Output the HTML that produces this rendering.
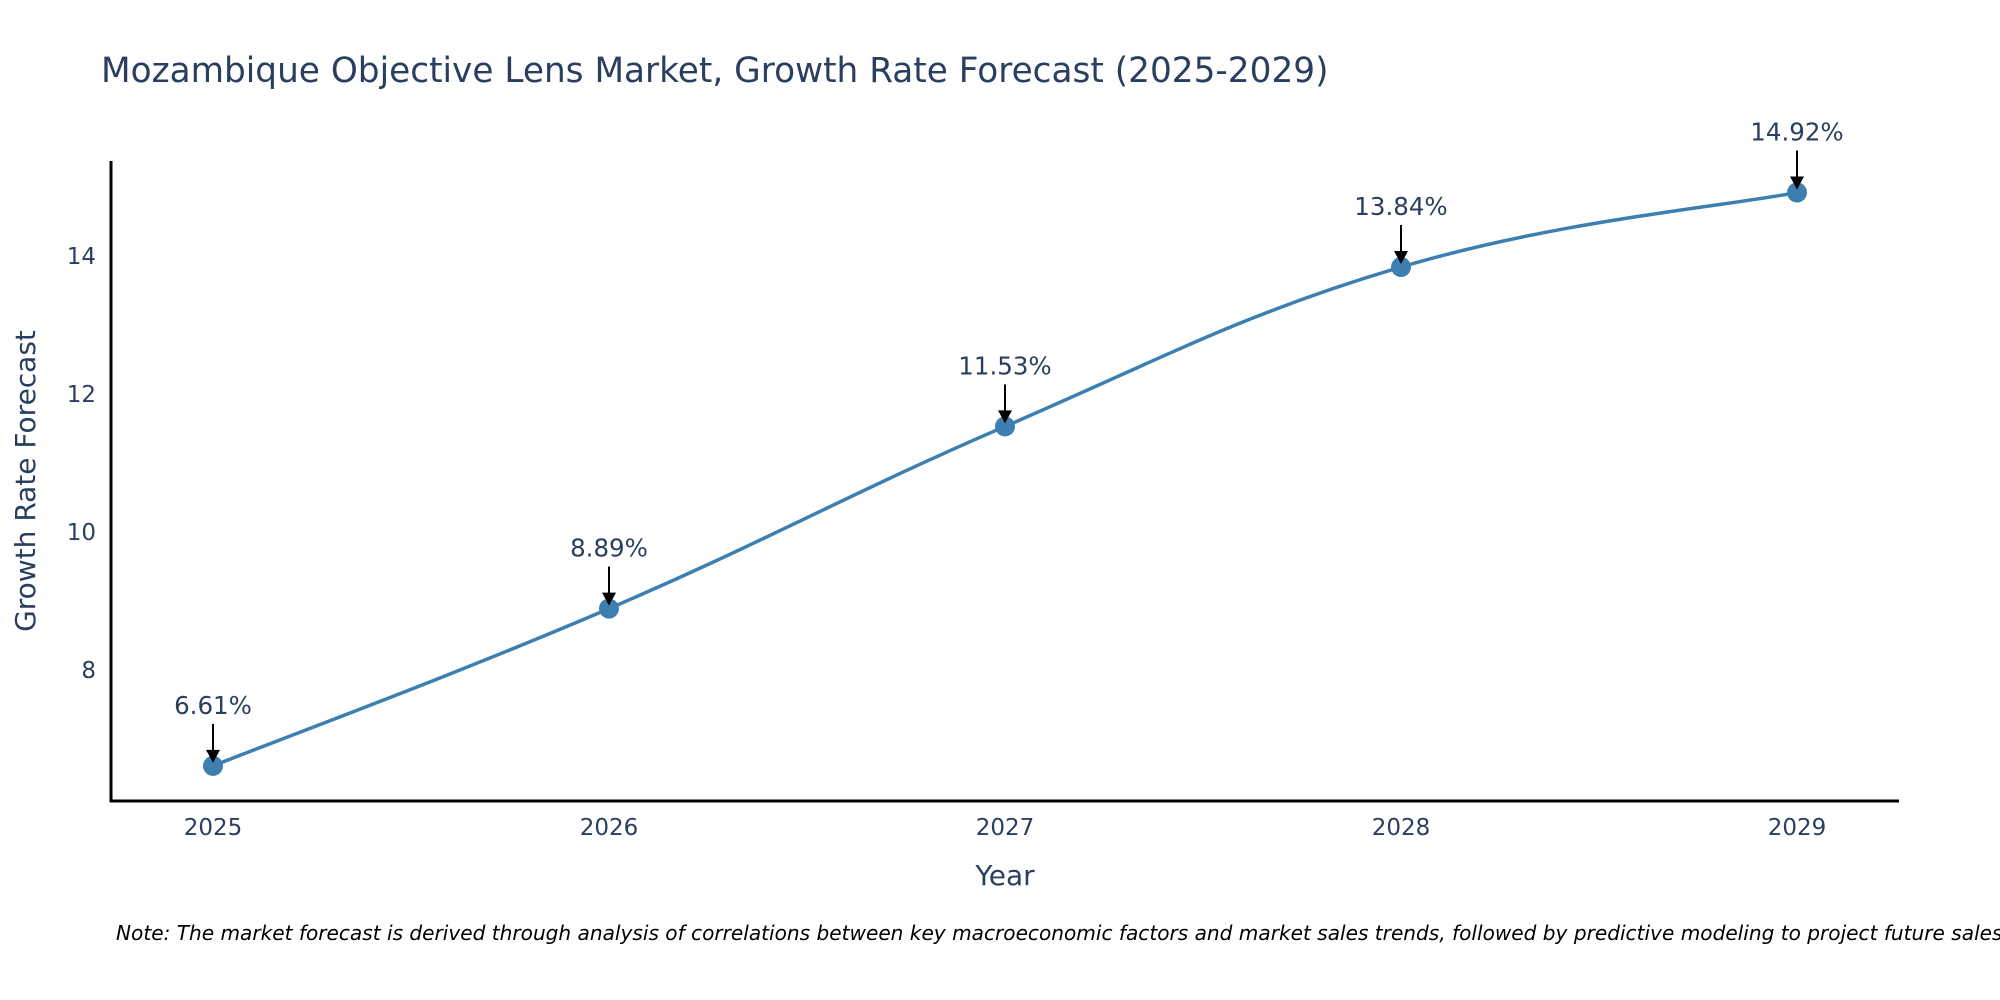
<!DOCTYPE html>
<html><head><meta charset="utf-8"><style>
html,body{margin:0;padding:0;background:#fff;}
svg{display:block;font-family:"DejaVu Sans","Liberation Sans",sans-serif;}
</style></head><body>
<svg id="chart" width="2000" height="1000" viewBox="0 0 2000 1000">
<text x="101" y="82" font-size="34.3" fill="#2a3f5f">Mozambique Objective Lens Market, Growth Rate Forecast (2025-2029)</text>
<g id="yticks"></g>
<g id="xticks"></g>
<line x1="111" y1="161" x2="111" y2="802" stroke="#000" stroke-width="3"/>
<line x1="110" y1="801" x2="1899" y2="801" stroke="#000" stroke-width="3"/>
<text x="1005" y="885" font-size="28" fill="#2a3f5f" text-anchor="middle">Year</text>
<text x="0" y="0" font-size="28" fill="#2a3f5f" text-anchor="middle" transform="translate(35,481) rotate(-90)">Growth Rate Forecast</text>
<g id="series"></g>
<g id="annos"></g>
<text x="116" y="940" font-size="20.1" font-style="italic" fill="#000">Note: The market forecast is derived through analysis of correlations between key macroeconomic factors and market sales trends, followed by predictive modeling to project future sales</text>
</svg>
<script>
const years = [2025, 2026, 2027, 2028, 2029];
const rates = [6.61, 8.89, 11.53, 13.84, 14.92];
const yTickVals = [8, 10, 12, 14];
const NS = "http://www.w3.org/2000/svg";
function xScale(yr){ return 213 + (yr - 2025) * 396; }
function yScale(v){ return 670 - (v - 8) * 69; }
function mk(tag, attrs, parent){
  const el = document.createElementNS(NS, tag);
  for (const k in attrs) el.setAttribute(k, attrs[k]);
  parent.appendChild(el);
  return el;
}
const yt = document.getElementById('yticks');
yTickVals.forEach(v => {
  const t = mk('text', {x: 96, y: yScale(v) + 8, 'font-size': 23, fill: '#2a3f5f', 'text-anchor': 'end'}, yt);
  
  
  t.textContent = v;
});
const xt = document.getElementById('xticks');
years.forEach(yr => {
  const t = mk('text', {x: xScale(yr), y: 835, 'font-size': 23, fill: '#2a3f5f', 'text-anchor': 'middle'}, xt);
  
  
  t.textContent = yr;
});
const pts = years.map((yr, i) => [xScale(yr), yScale(rates[i])]);
let d = 'M' + pts[0][0] + ',' + pts[0][1];
for (let i = 0; i < pts.length - 1; i++) {
  const p0 = pts[Math.max(0, i - 1)], p1 = pts[i], p2 = pts[i + 1], p3 = pts[Math.min(pts.length - 1, i + 2)];
  const s = 5;
  const c1 = [p1[0] + (p2[0] - p0[0]) / s, p1[1] + (p2[1] - p0[1]) / s];
  const c2 = [p2[0] - (p3[0] - p1[0]) / s, p2[1] - (p3[1] - p1[1]) / s];
  d += ' C' + c1.join(',') + ' ' + c2.join(',') + ' ' + p2.join(',');
}
const ser = document.getElementById('series');
const line = mk('path', {d: d, fill: 'none', stroke: '#3c7fb0', 'stroke-width': 3.5}, ser);


const an = document.getElementById('annos');
pts.forEach((p, i) => {
  const c = mk('circle', {cx: p[0], cy: p[1], r: 10, fill: '#3c7fb0'}, ser);
  
  
  const l = mk('line', {x1: p[0], y1: p[1] - 42, x2: p[0], y2: p[1] - 14, stroke: '#000', 'stroke-width': 2}, an);
  
  
  const h = mk('polygon', {points: (p[0]-7)+','+(p[1]-16)+' '+(p[0]+7)+','+(p[1]-16)+' '+p[0]+','+(p[1]-3), fill: '#000'}, an);
  
  
  const t = mk('text', {x: p[0], y: p[1] - 52, 'font-size': 24.5, fill: '#2a3f5f', 'text-anchor': 'middle'}, an);
  
  
  t.textContent = rates[i].toFixed(2) + '%';
});
</script>
</body></html>
